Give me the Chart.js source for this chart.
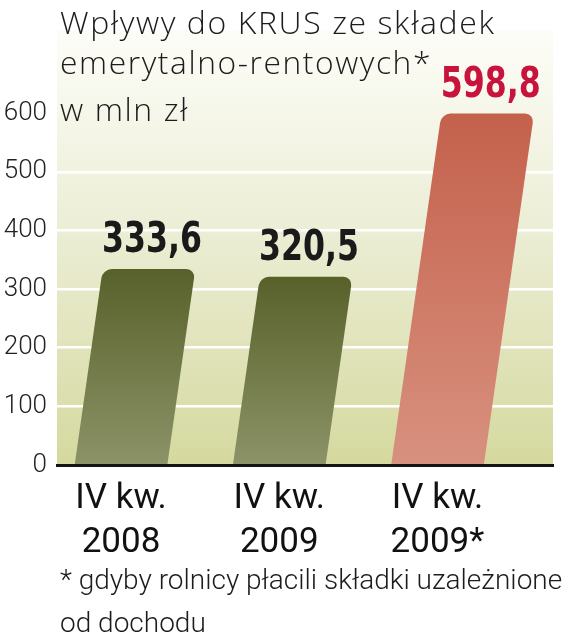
<!DOCTYPE html>
<html lang="pl">
<head>
<meta charset="utf-8">
<script src="https://cdn.jsdelivr.net/npm/chart.js@4/dist/chart.umd.min.js"></script>
<style>
  html, body { margin: 0; padding: 0; background: #fff; }
  #wrap { width: 567px; height: 640px; }
</style>
</head>
<body>
<div id="wrap"><canvas id="krusChart" width="567" height="640"></canvas></div>
<script>
// dane
const categories = [['IV kw.', '2008'], ['IV kw.', '2009'], ['IV kw.', '2009*']];
const values = [333.6, 320.5, 598.8];
const yTicks = [0, 100, 200, 300, 400, 500, 600];
const titleLines = ['Wpływy do KRUS ze składek', 'emerytalno-rentowych*', 'w mln zł'];
const footnoteLines = ['* gdyby rolnicy płacili składki uzależnione', 'od dochodu'];

// wygląd
const SLANT = 0.143;
const barPalette = [
    ['#58612a', '#8c9368'],
    ['#58612a', '#8c9368'],
    ['#c4614c', '#d8917f']
];
const labelColors = ['#1a1a1a', '#1a1a1a', '#c8143c'];

const fmt = v => v.toFixed(1).replace('.', ',');

function barFill(context) {
    const { chart, dataIndex } = context;
    const stops = barPalette[dataIndex];
    if (!chart.chartArea || !chart.scales.y) return stops[0];
    const top = chart.scales.y.getPixelForValue(values[dataIndex]);
    const g = chart.ctx.createLinearGradient(0, top, 0, chart.chartArea.bottom);
    g.addColorStop(0, stops[0]);
    g.addColorStop(1, stops[1]);
    return g;
}

const backdrop = {
    id: 'backdrop',
    beforeDraw(chart) {
        const { ctx, chartArea: a } = chart;
        ctx.save();
        ctx.fillStyle = '#ffffff';
        ctx.fillRect(0, 0, chart.width, chart.height);
        const g = ctx.createLinearGradient(0, a.top, 0, a.bottom);
        g.addColorStop(0, '#fdfdf8');
        g.addColorStop(0.45, '#eceed6');
        g.addColorStop(1, '#d5d99f');
        ctx.fillStyle = g;
        ctx.fillRect(a.left, a.top, a.right - a.left, a.bottom - a.top);
        ctx.restore();
    }
};

// pochylone słupki
const slantBars = {
    id: 'slantBars',
    beforeDatasetsDraw(chart) {
        const { ctx, chartArea } = chart;
        ctx.save();
        ctx.transform(1, 0, -SLANT, 1, SLANT * chartArea.bottom, 0);
    },
    afterDatasetsDraw(chart) {
        chart.ctx.restore();
    }
};

const texts = {
    id: 'texts',
    afterDraw(chart) {
        const { ctx, chartArea } = chart;
        const meta = chart.getDatasetMeta(0);
        ctx.save();
        ctx.textBaseline = 'alphabetic';

        ctx.textAlign = 'center';
        ctx.font = 'bold 42px "DejaVu Sans Condensed", "DejaVu Sans", sans-serif';
        meta.data.forEach((bar, i) => {
            const x = bar.x + SLANT * (chartArea.bottom - bar.y);
            ctx.fillStyle = labelColors[i];
            ctx.fillText(fmt(values[i]), x + 3, bar.y - 17, 100);
        });

        ctx.textAlign = 'left';
        ctx.fillStyle = '#1c1c1c';
        ctx.font = '300 32px "Open Sans", sans-serif';
        ctx.letterSpacing = '1.6px';
        const titleY = [34, 74, 121];
        titleLines.forEach((t, i) => ctx.fillText(t, 60, titleY[i], i === 0 ? 442 : 372));

        ctx.letterSpacing = '0px';
        ctx.font = '300 28px Roboto, sans-serif';
        const noteY = [589, 632];
        footnoteLines.forEach((t, i) => ctx.fillText(t, 60, noteY[i], 507));
        ctx.restore();
    }
};

const ctx = document.getElementById('krusChart').getContext('2d');
const krusChart = new Chart(ctx, {
    type: 'bar',
    data: {
        datasets: [{
            data: values.map((v, i) => ({ x: i, y: v })),
            backgroundColor: barFill,
            borderWidth: 0,
            borderRadius: { topLeft: 9, topRight: 9, bottomLeft: 0, bottomRight: 0 },
            borderSkipped: 'bottom',
            barThickness: 92,
            clip: false
        }]
    },
    options: {
        responsive: false,
        animation: false,
        layout: { padding: { top: 30, right: 14, left: 0, bottom: 0 } },
        plugins: {
            legend: { display: false },
            tooltip: { enabled: false }
        },
        scales: {
            x: {
                type: 'linear',
                offset: false,
                min: -0.4044,
                max: 2.730,
                z: 1,
                afterBuildTicks: scale => { scale.ticks = categories.map((c, i) => ({ value: i })); },
                afterFit: scale => { scale.height = 175; },
                grid: { display: false },
                border: { color: '#141414', width: 3 },
                ticks: {
                    callback: value => categories[value],
                    padding: 4,
                    color: '#111',
                    maxRotation: 0,
                    font: { family: 'Roboto', size: 35, weight: '400', lineHeight: 44 / 35 }
                }
            },
            y: {
                min: 0,
                max: 742,
                z: 1,
                afterBuildTicks: scale => { scale.ticks = yTicks.map(v => ({ value: v })); },
                afterFit: scale => { scale.width = 57; },
                grid: {
                    drawTicks: false,
                    lineWidth: 2.5,
                    color: c => (c.tick && c.tick.value > 0 && c.tick.value < 600) ? '#ffffff' : 'rgba(0,0,0,0)'
                },
                border: { display: false },
                ticks: {
                    padding: 10,
                    color: '#222',
                    font: { family: 'Roboto', size: 26, weight: '300' }
                }
            }
        }
    },
    plugins: [backdrop, slantBars, texts]
});
</script>
</body>
</html>
